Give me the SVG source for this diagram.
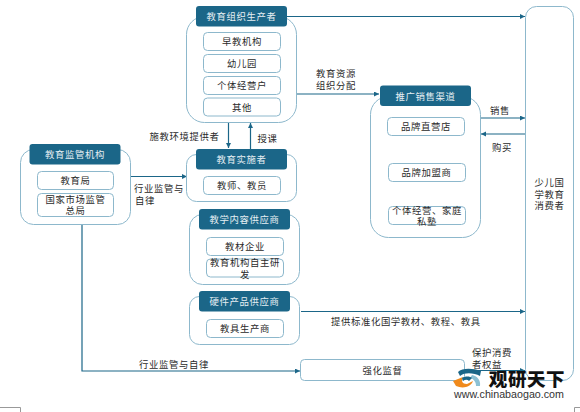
<svg xmlns="http://www.w3.org/2000/svg" width="580" height="412" viewBox="0 0 580 412">
<style>
text{font-family:"Noto Sans CJK SC","Noto Sans",sans-serif;font-size:9.400px;letter-spacing:.6px;fill:#2a2a2a;text-anchor:middle}
.h{fill:#1b6688;stroke:none}
.ht{fill:#e6eff3;font-size:9.400px}
.c{fill:#fff;stroke:#8db8cc;stroke-width:1}
.s{fill:#fff;stroke:#8db8cc;stroke-width:1}
.l{fill:none;stroke:#1b6688;stroke-width:1.200}
.la{text-anchor:start}
</style>
<defs>
<marker id="a" markerWidth="6" markerHeight="6" refX="5" refY="2.500" orient="auto" markerUnits="userSpaceOnUse"><path d="M0 0L5 2.500L0 5z" fill="#1b6688"/></marker>
</defs>
<g id="connectors">
<path class="l" marker-end="url(#a)" d="M287 16.500H525"/>
<path class="l" marker-end="url(#a)" d="M296 94H379"/>
<path class="l" marker-end="url(#a)" d="M228.500 122V148"/>
<path class="l" marker-end="url(#a)" d="M250.500 149V123"/>
<path class="l" marker-end="url(#a)" d="M130 176.500H187"/>
<path class="l" marker-end="url(#a)" d="M481 118H525"/>
<path class="l" marker-end="url(#a)" d="M525 134H481"/>
<path class="l" marker-end="url(#a)" d="M301 311.500H525"/>
<path class="l" marker-end="url(#a)" d="M82 224V371H300"/>
<path class="l" marker-end="url(#a)" d="M464 370.500H525"/>
</g>
<g id="consumer"><rect class="c" x="525.500" y="6.500" width="48" height="374" rx="11"/>
<text x="549.500" y="186">少儿国</text><text x="549.500" y="197.500">学教育</text><text x="549.500" y="209">消费者</text></g>
<g id="producer"><rect class="c" x="186.500" y="16.500" width="110" height="106" rx="18"/>
<rect class="h" x="196" y="6" width="91" height="20.500" rx="3"/><text class="ht" x="241.500" y="20">教育组织生产者</text>
<rect class="s" x="203.500" y="32.500" width="77" height="18" rx="4"/><text x="242" y="45">早教机构</text>
<rect class="s" x="203.500" y="54.500" width="77" height="18" rx="4"/><text x="242" y="67">幼儿园</text>
<rect class="s" x="203.500" y="76.500" width="77" height="18" rx="4"/><text x="242" y="89">个体经营户</text>
<rect class="s" x="203.500" y="98" width="77" height="18" rx="4"/><text x="242" y="110.500">其他</text></g>
<g id="teacher"><rect class="c" x="186.500" y="154.500" width="110" height="47" rx="10"/>
<rect class="h" x="196" y="149" width="91" height="20.500" rx="3"/><text class="ht" x="241.500" y="163">教育实施者</text>
<rect class="s" x="203.500" y="176.500" width="77" height="18" rx="4"/><text x="242" y="189">教师、教员</text></g>
<g id="regulator"><rect class="c" x="20.500" y="149.500" width="110" height="75" rx="13"/>
<rect class="h" x="29.500" y="144" width="91" height="20.500" rx="3"/><text class="ht" x="75" y="158">教育监管机构</text>
<rect class="s" x="37.500" y="171.500" width="76" height="18" rx="4"/><text x="75.500" y="184">教育局</text>
<rect class="s" x="37.500" y="193.500" width="76" height="23" rx="4"/><text x="75.500" y="203">国家市场监管</text><text x="75.500" y="214">总局</text></g>
<g id="content"><rect class="c" x="189.500" y="214.500" width="110" height="70" rx="13"/>
<rect class="h" x="199" y="209" width="91" height="20.500" rx="3"/><text class="ht" x="244.500" y="223">教学内容供应商</text>
<rect class="s" x="206.500" y="237.500" width="77" height="18" rx="4"/><text x="245" y="250">教材企业</text>
<rect class="s" x="206.500" y="259" width="77" height="18" rx="4"/><text x="245" y="266">教育机构自主研</text><text x="245" y="277.500">发</text></g>
<g id="hardware"><rect class="c" x="189.500" y="296.500" width="110" height="48" rx="10"/>
<rect class="h" x="199" y="291" width="91" height="20.500" rx="3"/><text class="ht" x="244.500" y="305">硬件产品供应商</text>
<rect class="s" x="206.500" y="319.500" width="77" height="18" rx="4"/><text x="245" y="332">教具生产商</text></g>
<g id="channel"><rect class="c" x="370.500" y="96.500" width="110" height="141" rx="18"/>
<rect class="h" x="380" y="85.500" width="91" height="20.500" rx="3"/><text class="ht" x="425.500" y="99.500">推广销售渠道</text>
<rect class="s" x="387.500" y="117.500" width="77" height="18" rx="4"/><text x="426" y="130">品牌直营店</text>
<rect class="s" x="388.500" y="163.500" width="77" height="18" rx="4"/><text x="426.500" y="176">品牌加盟商</text>
<rect class="s" x="388.500" y="206.500" width="77" height="18" rx="4"/><text x="427" y="214">个体经营、家庭</text><text x="427" y="224.500">私塾</text></g>
<g id="supervise"><rect class="s" x="300.500" y="359.500" width="164" height="21" rx="4"/><text x="382.500" y="373.500">强化监督</text></g>
<g id="labels">
<text x="184.500" y="140">施教环境提供者</text>
<text x="267.500" y="141.500">授课</text>
<text x="159" y="192">行业监管与</text>
<text class="la" x="135" y="203.500">自律</text>
<text class="la" x="316" y="77">教育资源</text>
<text class="la" x="316" y="88.500">组织分配</text>
<text x="500" y="113.500">销售</text>
<text x="502" y="151">购买</text>
<text x="174" y="368">行业监管与自律</text>
<text class="la" x="331" y="325">提供标准化国学教材、教程、教具</text>
<text class="la" x="472" y="356">保护消费</text>
<text class="la" x="472" y="367.500">者权益</text>
</g>
<g id="watermark">
<path fill="#1b6688" d="M458 372C462 368 472 368 481 371L480 376C474 373 465 372 460 376z"/>
<path fill="#8cc1d4" d="M472 375C477 376 481 380 480 386L476 386C476 382 474 379 470 378z"/>
<path fill="#f08a1d" d="M453 381L463 377C461 381 462 384 467 384L473 381C471 387 463 389 456 386z"/>
<path fill="#1b6688" d="M462 378C465 376 470 376 472 378L469 381C467 379 465 380 463 381z"/>
<text x="527" y="386" style="font-family:'Noto Sans CJK SC',sans-serif;font-size:18.500px;font-weight:900;fill:#111;letter-spacing:.6px">观研天下</text>
<text x="509" y="398" style="font-family:'Liberation Sans',sans-serif;font-size:10.700px;letter-spacing:0;fill:#333">www.chinabaogao.com</text>
</g>
<g id="corners" fill="none" stroke="#999" stroke-width="1"><path d="M0 407.500H20.500V412"/><path d="M580 407.500H574.500V412"/></g>
</svg>
